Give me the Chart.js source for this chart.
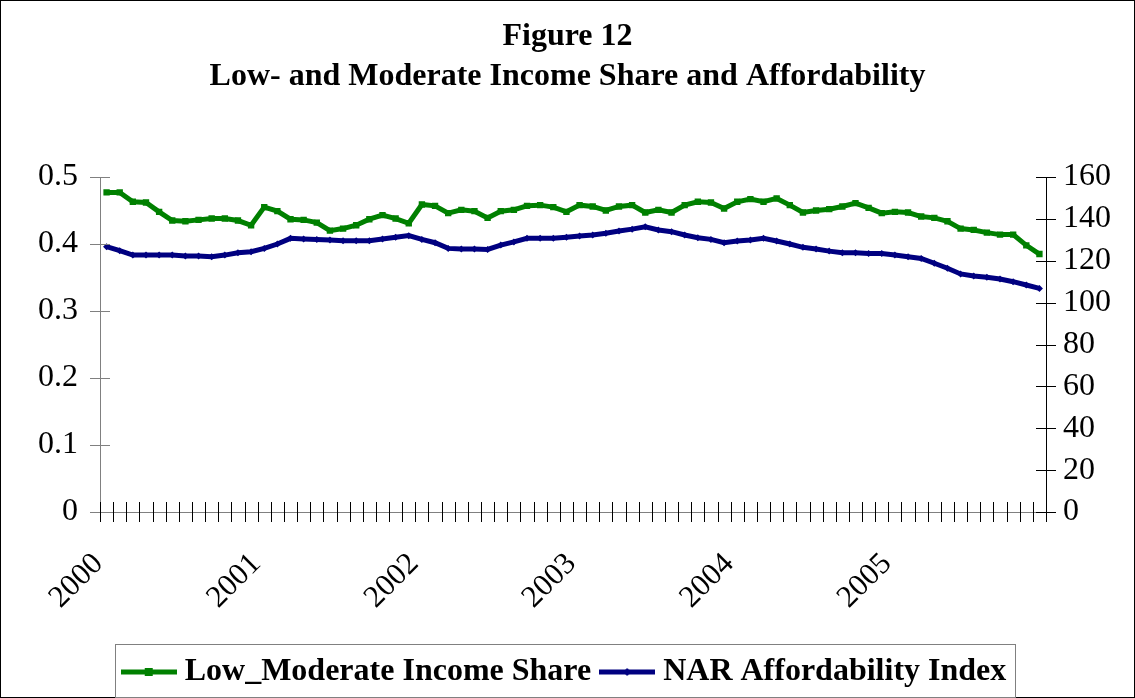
<!DOCTYPE html>
<html>
<head>
<meta charset="utf-8">
<script src="https://cdn.jsdelivr.net/npm/chart.js@4"></script>
<style>
  html, body { margin: 0; padding: 0; background: #fff; }
  #wrap { width: 1135px; height: 698px; position: relative; }
</style>
</head>
<body>
<div id="wrap"><canvas id="chart"></canvas></div>
<script>
// data, monthly Jan 2000 - Dec 2005
const years = ['2000', '2001', '2002', '2003', '2004', '2005'];
const incomeShare = [
  0.477, 0.477, 0.463, 0.462, 0.448, 0.435, 0.434, 0.436, 0.438, 0.438, 0.435, 0.428,
  0.455, 0.449, 0.437, 0.436, 0.432, 0.420, 0.423, 0.428, 0.437, 0.443, 0.438, 0.431,
  0.459, 0.457, 0.446, 0.451, 0.449, 0.439, 0.449, 0.451, 0.457, 0.458, 0.455, 0.448,
  0.458, 0.456, 0.450, 0.456, 0.458, 0.447, 0.451, 0.447, 0.458, 0.463, 0.462, 0.453,
  0.463, 0.467, 0.463, 0.468, 0.458, 0.447, 0.450, 0.452, 0.456, 0.461, 0.454, 0.446,
  0.448, 0.447, 0.441, 0.439, 0.434, 0.423, 0.421, 0.417, 0.414, 0.414, 0.398, 0.385
];
const affordIndex = [
  126.7, 124.8, 122.7, 122.7, 122.7, 122.7, 122.3, 122.3, 121.9, 122.7, 123.8, 124.3,
  125.9, 128.0, 130.7, 130.4, 130.2, 129.9, 129.6, 129.6, 129.6, 130.4, 131.2, 132.0,
  130.2, 128.6, 125.9, 125.6, 125.6, 125.4, 127.5, 129.0, 130.7, 130.7, 130.7, 131.2,
  131.8, 132.3, 133.1, 134.2, 135.1, 136.2, 134.7, 133.9, 132.3, 131.0, 130.2, 128.6,
  129.4, 129.9, 130.7, 129.4, 128.0, 126.4, 125.6, 124.6, 123.8, 123.8, 123.5, 123.5,
  122.7, 121.9, 121.1, 118.8, 116.4, 113.7, 112.7, 112.1, 111.3, 110.0, 108.4, 106.8
];
const leftTicks = { min: 0, max: 0.5, step: 0.1 };
const rightTicks = { min: 0, max: 160, step: 20 };

// one category per month, year shown on January
const months = [];
years.forEach(y => {
  for (let m = 1; m <= 12; m++) months.push(y + '-' + (m < 10 ? '0' + m : m));
});

const GREEN = '#008000';
const NAVY = '#000080';
const serif = 'Liberation Serif, Times New Roman, serif';

// legend swatch: line with marker in the middle
function swatch(color, square) {
  const c = document.createElement('canvas');
  c.width = 56; c.height = 12;
  const g = c.getContext('2d');
  g.strokeStyle = color; g.lineWidth = 5;
  g.beginPath(); g.moveTo(0, 6); g.lineTo(56, 6); g.stroke();
  g.fillStyle = color;
  if (square) g.fillRect(24, 2, 8, 8);
  else { g.beginPath(); g.moveTo(28, 2); g.lineTo(32, 6); g.lineTo(28, 10); g.lineTo(24, 6); g.closePath(); g.fill(); }
  return c;
}
const swatches = [swatch(GREEN, true), swatch(NAVY, false)];

// axes drawn like the original: crossing tick marks
const axisPlugin = {
  id: 'axisPlugin',
  afterDatasetsDraw(chart) {
    const { ctx, chartArea: a, scales } = chart;
    ctx.save();
    ctx.lineWidth = 1;
    // left axis
    ctx.strokeStyle = '#808080';
    ctx.beginPath();
    ctx.moveTo(a.left + 0.5, a.top); ctx.lineTo(a.left + 0.5, a.bottom);
    scales.y.ticks.forEach(t => {
      const y = Math.round(scales.y.getPixelForValue(t.value)) + 0.5;
      ctx.moveTo(a.left - 10, y); ctx.lineTo(a.left + 10, y);
    });
    ctx.stroke();
    // bottom axis
    ctx.beginPath();
    ctx.moveTo(a.left, a.bottom + 0.5); ctx.lineTo(a.right, a.bottom + 0.5);
    ctx.stroke();
    ctx.strokeStyle = '#000';
    ctx.beginPath();
    const n = months.length;
    const half = (scales.x.getPixelForValue(1) - scales.x.getPixelForValue(0)) / 2;
    for (let i = 0; i <= n; i++) {
      const x = Math.round(scales.x.getPixelForValue(i) - half) + 0.5;
      ctx.moveTo(x, a.bottom - 10); ctx.lineTo(x, a.bottom + 10);
    }
    ctx.stroke();
    // right axis
    ctx.beginPath();
    ctx.moveTo(a.right + 0.5, a.top); ctx.lineTo(a.right + 0.5, a.bottom);
    scales.y1.ticks.forEach(t => {
      const y = Math.round(scales.y1.getPixelForValue(t.value)) + 0.5;
      ctx.moveTo(a.right - 10, y); ctx.lineTo(a.right + 10, y);
    });
    ctx.stroke();
    ctx.restore();
  },
  afterDraw(chart) {
    const { ctx, width, height, legend } = chart;
    ctx.save();
    ctx.strokeStyle = '#000';
    ctx.lineWidth = 1;
    ctx.strokeRect(0.5, 0.5, width - 1, height - 1);
    const boxes = legend.legendHitBoxes;
    if (boxes && boxes.length) {
      const l = boxes[0].left - 14;
      const last = boxes[boxes.length - 1];
      const r = last.left + last.width + 8;
      ctx.strokeStyle = '#808080';
      ctx.strokeRect(Math.round(l) + 0.5, height - 53.5, Math.round(r - l), 53);
    }
    ctx.restore();
  }
};

const data = {
  labels: months,
  datasets: [{
    label: 'Low_Moderate Income Share',
    data: incomeShare,
    yAxisID: 'y',
    borderColor: GREEN,
    backgroundColor: GREEN,
    borderWidth: 5,
    pointStyle: 'rect',
    pointRadius: 4.5,
    pointBorderWidth: 0,
    tension: 0,
  }, {
    label: 'NAR Affordability Index',
    data: affordIndex,
    yAxisID: 'y1',
    borderColor: NAVY,
    backgroundColor: NAVY,
    borderWidth: 5,
    pointStyle: 'rectRot',
    pointRadius: 3.5,
    pointBorderWidth: 0,
    tension: 0,
  }]
};

const config = {
  type: 'line',
  data,
  options: {
    responsive: true,
    maintainAspectRatio: false,
    animation: false,
    layout: { padding: 0 },
    scales: {
      x: {
        type: 'category',
        offset: true,
        grid: { display: false, drawTicks: false },
        border: { display: false },
        ticks: {
          autoSkip: false,
          maxRotation: 45,
          minRotation: 45,
          padding: 34,
          labelOffset: -8,
          color: '#000',
          font: { family: serif, size: 31 },
          callback: function (v, i) {
            const lab = months[i];
            return lab.endsWith('-01') ? lab.slice(0, 4) : '';
          }
        },
        afterFit(scale) { scale.height = 698 - 512 - scale.chart.legend.height; }
      },
      y: {
        position: 'left',
        min: leftTicks.min,
        max: leftTicks.max,
        grid: { display: false, drawTicks: false },
        border: { display: false },
        ticks: {
          stepSize: leftTicks.step,
          autoSkip: false,
          padding: 22,
          color: '#000',
          font: { family: serif, size: 32 },
          callback: v => String(Math.round(v * 10) / 10)
        },
        afterFit(scale) { scale.width = 100; }
      },
      y1: {
        position: 'right',
        min: rightTicks.min,
        max: rightTicks.max,
        grid: { display: false, drawTicks: false },
        border: { display: false },
        ticks: {
          stepSize: rightTicks.step,
          autoSkip: false,
          padding: 17,
          color: '#000',
          font: { family: serif, size: 32 }
        },
        afterFit(scale) { scale.width = 1135 - 1046; }
      }
    },
    plugins: {
      title: {
        display: true,
        text: ['Figure 12', 'Low- and Moderate Income Share and Affordability'],
        color: '#000',
        font: { family: serif, size: 32, weight: 'bold', lineHeight: 1.25 },
        padding: { top: 17, bottom: 80 }
      },
      legend: {
        display: true,
        position: 'bottom',
        labels: {
          color: '#000',
          font: { family: serif, size: 32, weight: 'bold' },
          usePointStyle: true,
          pointStyleWidth: 40,
          boxHeight: 20,
          padding: 16,
          generateLabels(chart) {
            const items = Chart.defaults.plugins.legend.labels.generateLabels(chart);
            items.forEach((it, i) => { it.pointStyle = swatches[i]; });
            return items;
          }
        }
      },
      tooltip: { enabled: false }
    }
  },
  plugins: [axisPlugin]
};

const myChart = new Chart(document.getElementById('chart'), config);
</script>
</body>
</html>
